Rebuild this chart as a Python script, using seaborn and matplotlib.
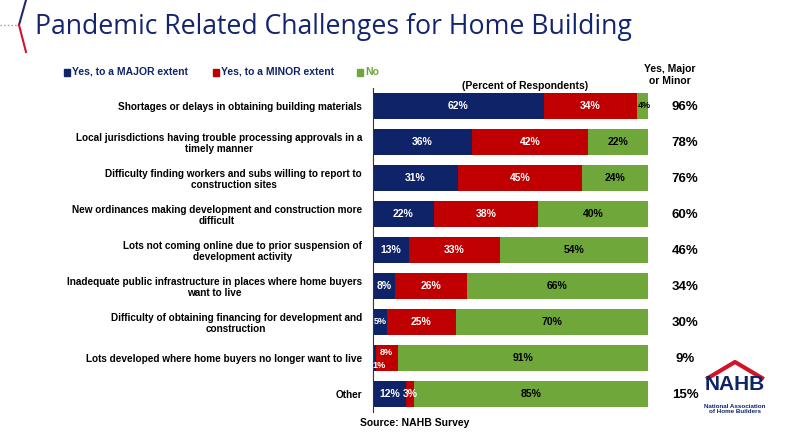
import matplotlib
matplotlib.use("Agg")
import matplotlib.pyplot as plt
import seaborn as sns
import pandas as pd
import numpy as np

categories = [
    "Shortages or delays in obtaining building materials",
    "Local jurisdictions having trouble processing approvals in a\ntimely manner",
    "Difficulty finding workers and subs willing to report to\nconstruction sites",
    "New ordinances making development and construction more\ndifficult",
    "Lots not coming online due to prior suspension of\ndevelopment activity",
    "Inadequate public infrastructure in places where home buyers\nwant to live",
    "Difficulty of obtaining financing for development and\nconstruction",
    "Lots developed where home buyers no longer want to live",
    "Other",
]
major = [62, 36, 31, 22, 13, 8, 5, 1, 12]
minor = [34, 42, 45, 38, 33, 26, 25, 8, 3]
no = [4, 22, 24, 40, 54, 66, 70, 91, 85]
total_yes = ["96%", "78%", "76%", "60%", "46%", "34%", "30%", "9%", "15%"]

NAVY = "#0F2468"
RED = "#C00000"
GREEN = "#6FA73A"

df = pd.DataFrame({"cat": categories, "major": major, "minor": minor, "no": no})
df["cum2"] = df["major"] + df["minor"]
df["cum3"] = df["cum2"] + df["no"]

fig = plt.figure(figsize=(7.92, 4.37), dpi=100)
ax = fig.add_axes([373 / 792, 1 - 412 / 437, 275 / 792, 324 / 437])

w = 0.74
sns.barplot(data=df, y="cat", x="cum3", color=GREEN, orient="h", width=w, ax=ax, saturation=1, linewidth=0)
sns.barplot(data=df, y="cat", x="cum2", color=RED, orient="h", width=w, ax=ax, saturation=1, linewidth=0)
sns.barplot(data=df, y="cat", x="major", color=NAVY, orient="h", width=w, ax=ax, saturation=1, linewidth=0)

ax.set_xlim(0, 100)
ax.set_ylim(8.5, -0.5)
ax.set_xlabel("")
ax.set_ylabel("")
ax.set_xticks([])
for s in ["top", "right", "bottom"]:
    ax.spines[s].set_visible(False)
ax.spines["left"].set_color("#333333")
ax.tick_params(axis="y", length=0, pad=8)
ax.set_yticks(range(len(categories)))
ax.set_yticklabels(categories, fontsize=7.2, fontweight="bold", fontfamily="Liberation Sans",
                   linespacing=1.1)
for t in ax.get_yticklabels():
    t.set_multialignment("center")

lbl = dict(color="white", fontsize=7.5, fontweight="bold", fontfamily="Liberation Sans",
           ha="center", va="center", clip_on=False)
for i in range(len(categories)):
    a, b, c = major[i], minor[i], no[i]
    if i == 7:
        ax.text(2.3, i + 0.2, f"{a}%", **{**lbl, "fontsize": 6.5})
        ax.text(a + b / 2, i - 0.15, f"{b}%", **{**lbl, "fontsize": 6.5})
    elif i == 6:
        ax.text(a / 2 + 0.2, i, f"{a}%", **{**lbl, "fontsize": 6.5})
        ax.text(a + b / 2, i, f"{b}%", **lbl)
    elif i == 0:
        ax.text(a / 2, i, f"{a}%", **lbl)
        ax.text(a + b / 2, i, f"{b}%", **lbl)
        ax.text(a + b + c / 2 + 0.5, i, f"{c}%", **{**lbl, "color": "black", "fontsize": 6.5})
        continue
    else:
        ax.text(a / 2, i, f"{a}%", **lbl)
        ax.text(a + b / 2, i, f"{b}%", **lbl)
    ax.text(a + b + c / 2, i, f"{c}%", **{**lbl, "color": "black"})

for i in range(len(categories)):
    ax.text(685 / 792, 1 - (107 + 36 * i) / 437, total_yes[i], transform=fig.transFigure,
            ha="center", va="center", fontsize=9.5, fontweight="bold", fontfamily="Liberation Sans")

fig.text(670 / 792, 1 - 75 / 437, "Yes, Major\nor Minor", ha="center", va="center", fontsize=7.5,
         fontweight="bold", fontfamily="Liberation Sans", linespacing=1.2)
fig.text(525 / 792, 1 - 86 / 437, "(Percent of Respondents)", ha="center", va="center", fontsize=7.5,
         fontweight="bold", fontfamily="Liberation Sans")
fig.text(415 / 792, 1 - 423 / 437, "Source: NAHB Survey", ha="center", va="center", fontsize=7.5,
         fontweight="bold", fontfamily="Liberation Sans")

leg = [(64, "Yes, to a MAJOR extent", NAVY), (213, "Yes, to a MINOR extent", RED), (357, "No", GREEN)]
for x, t, c in leg:
    fig.patches.append(plt.Rectangle((x / 792, 1 - 76 / 437), 6 / 792, 7 / 437,
                                     transform=fig.transFigure, color=c))
    fig.text((x + 8) / 792, 1 - 72 / 437, t, ha="left", va="center", fontsize=7.5,
             fontweight="bold", fontfamily="Liberation Sans", color=NAVY if c != GREEN else GREEN)

fig.text(35 / 792, 1 - 27 / 437, "Pandemic Related Challenges for Home Building", ha="left",
         va="center", fontsize=19.2, color="#13256E", fontfamily="Open Sans")
fig.add_artist(plt.Line2D([0, 19 / 792], [1 - 25 / 437] * 2, transform=fig.transFigure,
                          color="#999999", lw=1, ls=":"))
fig.add_artist(plt.Line2D([26 / 792, 19 / 792], [1, 1 - 25 / 437], transform=fig.transFigure,
                          color="#1F2A6B", lw=1.5))
fig.add_artist(plt.Line2D([19 / 792, 26 / 792], [1 - 25 / 437, 1 - 52 / 437], transform=fig.transFigure,
                          color="#D0152B", lw=1.5))

fig.text(735 / 792, 1 - 385 / 437, "NAHB", ha="center", va="center", fontsize=15, fontweight="bold",
         color=NAVY, fontfamily="Liberation Sans")
fig.add_artist(plt.Line2D([708 / 792, 735 / 792, 762 / 792], [1 - 378 / 437, 1 - 362 / 437, 1 - 378 / 437],
                          transform=fig.transFigure, color="#D0152B", lw=3))
fig.text(735 / 792, 1 - 409 / 437, "National Association\nof Home Builders", ha="center", va="center",
         fontsize=4.5, fontweight="bold", color=NAVY, fontfamily="Liberation Sans", linespacing=1.0)

fig.savefig("out.png", dpi=100)
